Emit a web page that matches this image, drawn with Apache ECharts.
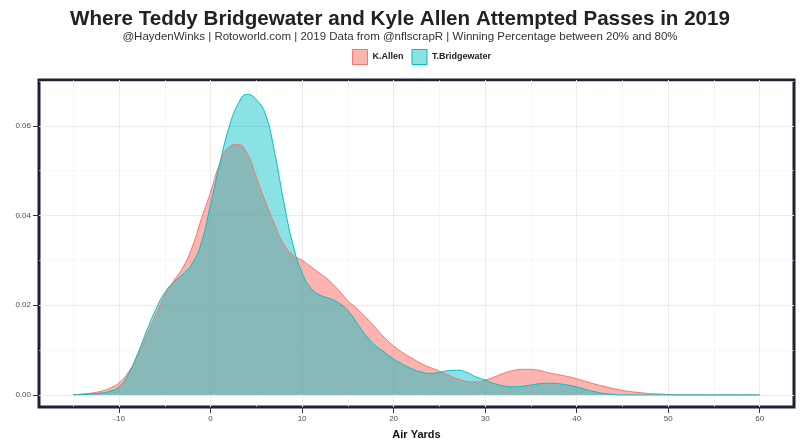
<!DOCTYPE html>
<html>
<head>
<meta charset="utf-8">
<script src="https://cdn.jsdelivr.net/npm/echarts@6/dist/echarts.min.js"></script>
<style>
  html, body { margin: 0; padding: 0; background: #fff; }
  #chart1 { width: 800px; height: 445px; }
</style>
</head>
<body>
<div id="chart1"></div>
<script>
// air yards grid (-15 .. 60, step 1)
var airYards = [];
for (var i = -15; i <= 60; i++) airYards.push(i);

var allenDensity = [
  0.0000, 0.0002, 0.0004, 0.0008, 0.0015, 0.0027, 0.0050, 0.0087, 0.0132, 0.0178, // -15..-6
  0.0222, 0.0255, 0.0285, 0.0330, 0.0393, 0.0452, 0.0515, 0.0552, 0.0558, 0.0538, // -5..4
  0.0485, 0.0430, 0.0380, 0.0336, 0.0312, 0.0300, 0.0285, 0.0270, 0.0254, 0.0233, // 5..14
  0.0210, 0.0192, 0.0172, 0.0150, 0.0128, 0.0109, 0.0094, 0.0082, 0.0070, 0.0061, // 15..24
  0.0053, 0.0044, 0.0036, 0.0030, 0.0029, 0.0033, 0.0040, 0.0048, 0.0054, 0.0057, // 25..34
  0.0057, 0.0054, 0.0049, 0.0045, 0.0041, 0.0036, 0.0030, 0.0024, 0.0019, 0.0014, // 35..44
  0.0010, 0.0007, 0.0005, 0.0003, 0.0002, 0.0001, 0.0000, 0.0000, 0.0000, 0.0000, // 45..54
  0.0000, 0.0000, 0.0000, 0.0000, 0.0000, 0.0000                                  // 55..60
];

var bridgewaterDensity = [
  0.0000, 0.0001, 0.0002, 0.0004, 0.0008, 0.0018, 0.0045, 0.0090, 0.0142, 0.0190, // -15..-6
  0.0228, 0.0252, 0.0270, 0.0293, 0.0340, 0.0425, 0.0515, 0.0595, 0.0648, 0.0670, // -5..4
  0.0658, 0.0625, 0.0540, 0.0430, 0.0335, 0.0272, 0.0237, 0.0222, 0.0215, 0.0205, // 5..14
  0.0188, 0.0160, 0.0132, 0.0110, 0.0095, 0.0080, 0.0068, 0.0058, 0.0051, 0.0048, // 15..24
  0.0050, 0.0054, 0.0055, 0.0050, 0.0040, 0.0033, 0.0025, 0.0020, 0.0018, 0.0019, // 25..34
  0.0022, 0.0025, 0.0026, 0.0025, 0.0022, 0.0018, 0.0012, 0.0007, 0.0003, 0.0001, // 35..44
  0.0000, 0.0000, 0.0000, 0.0000, 0.0000, 0.0000, 0.0000, 0.0000, 0.0000, 0.0000, // 45..54
  0.0000, 0.0000, 0.0000, 0.0000, 0.0000, 0.0000                                  // 55..60
];

var xMajorTicks = [-10, 0, 10, 20, 30, 40, 50, 60];
var xMinorTicks = [-15, -5, 5, 15, 25, 35, 45, 55];
var yMajorTicks = [0, 0.02, 0.04, 0.06];
var yMinorTicks = [0.01, 0.03, 0.05, 0.07];

function pairs(xs, ys) {
  return xs.map(function (x, i) { return [x, ys[i]]; });
}

var chartDom = document.getElementById("chart1");
var myChart = echarts.init(chartDom);

var gridMajor = { show: true, lineStyle: { color: "#ebebeb", width: 1 } };
var gridMinor = { show: true, lineStyle: { color: "#f2f2f2", width: 0.6 } };
var font = "Liberation Sans, Arial, sans-serif";

var option = {
  backgroundColor: "#fff",
  textStyle: { fontFamily: font },
  title: [
    {
      text: "Where Teddy Bridgewater and Kyle Allen Attempted Passes in 2019",
      left: "center",
      top: 4,
      textStyle: { fontSize: 20.6, fontWeight: "bold", color: "#222", fontFamily: font },
    },
    {
      text: "@HaydenWinks | Rotoworld.com | 2019 Data from @nflscrapR | Winning Percentage between 20% and 80%",
      left: "center",
      top: 26,
      textStyle: { fontSize: 11.5, fontWeight: "normal", color: "#333", fontFamily: font },
    },
  ],
  legend: {
    top: 44,
    left: 347,
    icon: "rect",
    itemWidth: 15,
    itemHeight: 15,
    itemGap: 8,
    textStyle: { fontSize: 9, fontWeight: "bold", color: "#222" },
    data: [
      { name: "K.Allen", itemStyle: { color: "rgba(248,118,109,0.55)", borderColor: "#F8766D", borderWidth: 1 } },
      { name: "T.Bridgewater", itemStyle: { color: "rgba(0,191,196,0.46)", borderColor: "#00BFC4", borderWidth: 1 } },
    ],
  },
  grid: {
    left: 39,
    right: 6,
    top: 80,
    bottom: 33,
    show: true,
    borderColor: "#1d2130",
    borderWidth: 3,
    backgroundColor: "#fff",
  },
  xAxis: [
    {
      type: "value",
      min: -18.75,
      max: 63.75,
      position: "bottom",
      name: "Air Yards",
      nameLocation: "middle",
      nameGap: 22,
      nameTextStyle: { fontSize: 11, fontWeight: "bold", color: "#111" },
      axisLine: { show: false, onZero: false },
      axisTick: { show: true, length: 6, customValues: xMajorTicks, lineStyle: { color: "#333" } },
      axisLabel: { customValues: xMajorTicks, fontSize: 8, color: "#4d4d4d", margin: 8 },
      splitLine: gridMajor,
    },
    {
      type: "value",
      min: -18.75,
      max: 63.75,
      position: "top",
      axisLine: { show: false, onZero: false },
      axisTick: { show: false, customValues: xMinorTicks },
      axisLabel: { show: false },
      splitLine: gridMinor,
    },
  ],
  yAxis: [
    {
      type: "value",
      min: -0.0027,
      max: 0.0702,
      position: "left",
      axisLine: { show: false, onZero: false },
      axisTick: { show: true, length: 6, customValues: yMajorTicks, lineStyle: { color: "#333" } },
      axisLabel: {
        customValues: yMajorTicks,
        fontSize: 8,
        color: "#4d4d4d",
        margin: 8,
        formatter: function (v) { return v.toFixed(2); },
      },
      splitLine: gridMajor,
    },
    {
      type: "value",
      min: -0.0027,
      max: 0.0702,
      position: "right",
      axisLine: { show: false, onZero: false },
      axisTick: { show: false, customValues: yMinorTicks },
      axisLabel: { show: false },
      splitLine: gridMinor,
    },
  ],
  series: [
    {
      name: "K.Allen",
      type: "line",
      smooth: 0.5,
      showSymbol: false,
      lineStyle: { color: "#F8766D", width: 1 },
      itemStyle: { color: "#F8766D" },
      areaStyle: { color: "#F8766D", opacity: 0.55 },
      data: pairs(airYards, allenDensity),
    },
    {
      name: "T.Bridgewater",
      type: "line",
      smooth: 0.5,
      showSymbol: false,
      lineStyle: { color: "#00BFC4", width: 1 },
      itemStyle: { color: "#00BFC4" },
      areaStyle: { color: "#00BFC4", opacity: 0.46 },
      data: pairs(airYards, bridgewaterDensity),
    },
  ],
};

option && myChart.setOption(option);
</script>
</body>
</html>
